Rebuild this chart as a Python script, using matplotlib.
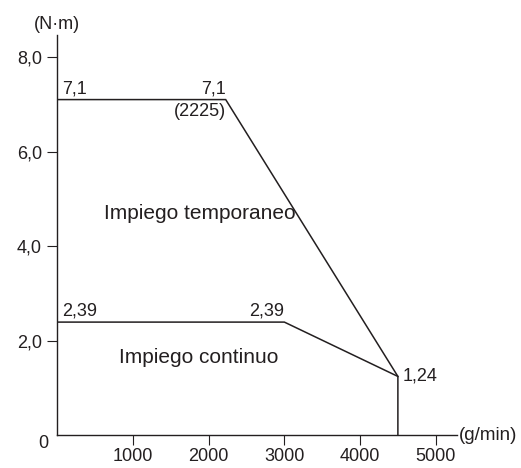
import matplotlib
matplotlib.use("Agg")
import matplotlib.pyplot as plt

plt.rcParams['font.family'] = ['Liberation Sans', 'DejaVu Sans']

# Data
temp_x = [0, 2225, 4500, 4500]
temp_y = [7.1, 7.1, 1.24, 0]
cont_x = [0, 3000, 4500]
cont_y = [2.39, 2.39, 1.24]
xticks = [1000, 2000, 3000, 4000, 5000]
xtick_labels = ["1000", "2000", "3000", "4000", "5000"]
yticks = [2, 4, 6, 8]
ytick_labels = ["2,0", "4,0", "6,0", "8,0"]

fig = plt.figure(figsize=(5.21, 4.68), dpi=100)
ax = fig.add_axes([0.110, 0.0705, 0.767, 0.855])
c = '#231f20'
ax.plot(temp_x, temp_y, color=c, lw=1.1, solid_joinstyle='miter')
ax.plot(cont_x, cont_y, color=c, lw=1.1, solid_joinstyle='miter')
ax.set_xlim(0, 5280)
ax.set_ylim(0, 8.47)
for s in ['top', 'right']:
    ax.spines[s].set_visible(False)
for s in ['left', 'bottom']:
    ax.spines[s].set_color(c)
    ax.spines[s].set_linewidth(1.0)
ax.set_xticks(xticks)
ax.set_xticklabels(xtick_labels)
ax.set_yticks(yticks)
ax.set_yticklabels(ytick_labels)
ax.tick_params(axis='both', direction='out', length=7, width=0.8, colors=c,
               labelsize=13, labelcolor=c)
ax.tick_params(axis='x', pad=2.5)
ax.tick_params(axis='y', pad=4)

fs = 13
ax.text(-115, -0.17, "0", ha='right', va='center', fontsize=13, color=c)
ax.text(60, 7.15, "7,1", ha='left', va='bottom', fontsize=fs, color=c)
ax.text(2225, 7.15, "7,1", ha='right', va='bottom', fontsize=fs, color=c)
ax.text(2225, 7.02, "(2225)", ha='right', va='top', fontsize=fs, color=c)
ax.text(60, 2.44, "2,39", ha='left', va='bottom', fontsize=fs, color=c)
ax.text(3000, 2.44, "2,39", ha='right', va='bottom', fontsize=fs, color=c)
ax.text(4560, 1.24, "1,24", ha='left', va='center', fontsize=fs, color=c)
ax.text(620, 4.68, "Impiego temporaneo", ha='left', va='center', fontsize=15, color=c)
ax.text(820, 1.65, "Impiego continuo", ha='left', va='center', fontsize=15, color=c)
ax.text(0, 8.68, "(N·m)", ha='center', va='center', fontsize=13, color=c)
ax.text(5300, -0.02, "(g/min)", ha='left', va='center', fontsize=13.5, color=c)

fig.savefig("out.png", dpi=100)
